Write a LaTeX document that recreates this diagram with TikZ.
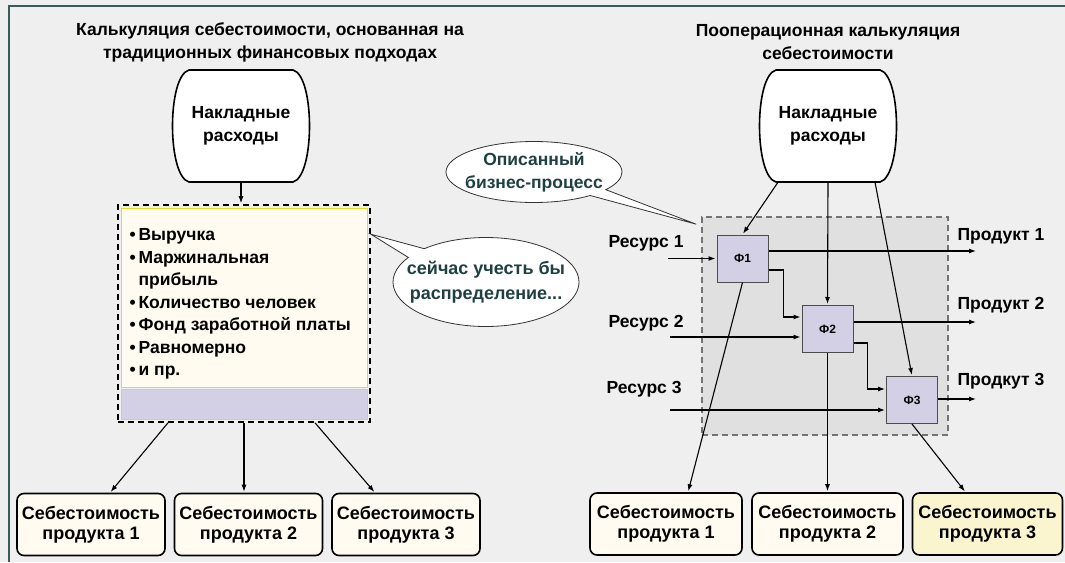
\documentclass[tikz,border=0pt]{standalone}
\usepackage{fontspec}
\setmainfont{Liberation Sans}
\usetikzlibrary{arrows.meta,calc,shapes.callouts}
\definecolor{bg}{HTML}{EFEFEF}
\definecolor{frame}{HTML}{3C5C5C}
\definecolor{cream}{HTML}{FFFBF0}
\definecolor{lav}{HTML}{D3D0E6}
\definecolor{lemon}{HTML}{FAF5CF}
\definecolor{procgray}{HTML}{E0E0E0}
\definecolor{note}{HTML}{1E4040}
\tikzset{
  barrel/.style={minimum width=137pt,minimum height=112pt,align=center,inner sep=0pt},
  cost/.style={draw,line width=1.6pt,rounded corners=7pt,fill=cream,
    minimum width=148pt,minimum height=62pt,align=center,inner sep=0pt,
    font=\fontsize{18}{20}\selectfont\bfseries},
  func/.style={draw=black!70,line width=1pt,fill=lav,minimum width=51pt,
    minimum height=47pt,inner sep=0pt,font=\fontsize{12}{14}\selectfont\bfseries},
  bubble/.style={ellipse callout,draw=black!80,thick,fill=white,text=note,
    align=center,inner xsep=-22pt,inner ysep=-6pt},
  arr/.style={-{Latex[length=7pt,width=5pt]},line width=1.1pt,shorten >=1pt}
}
% outline of an overheads "barrel" round a centre point
\newcommand{\barrelat}[1]{%
  \draw[line width=1.6pt,fill=white] ($#1+(-52,-56)$) -- ($#1+(52,-56)$)
    .. controls ($#1+(74,-50)$) and ($#1+(74,50)$) .. ($#1+(52,56)$)
    -- ($#1+(-52,56)$)
    .. controls ($#1+(-74,50)$) and ($#1+(-74,-50)$) .. cycle;}
\begin{document}
\begin{tikzpicture}[x=1pt,y=-1pt,font=\fontsize{17.5}{23}\selectfont\bfseries]
  \fill[bg] (0,0) rectangle (1065,562);
  \useasboundingbox (0,0) rectangle (1065,562);
  \draw[frame,line width=2.5pt] (9,562) -- (9,6) -- (1065,6);

  % titles
  \node[align=center] (tl) at (270,42) {Калькуляция себестоимости, основанная на\\традиционных финансовых подходах};
  \node[align=center] (tr) at (828,42) {Пооперационная калькуляция\\себестоимости};

  % overheads
  \barrelat{(241,126)}
  \barrelat{(828,126)}
  \node[barrel] (ohl) at (241,126) {Накладные\\расходы};
  \node[barrel] (ohr) at (828,126) {Накладные\\расходы};

  % allocation bases
  \filldraw[fill=cream,draw=yellow!90!black] (121,208) rectangle (367,387);
  \filldraw[fill=lav,draw=yellow!90!black] (121,389) rectangle (367,419);
  \node[draw,line width=1.6pt,dash pattern=on 6pt off 4pt,minimum width=252pt,minimum height=217pt] (bases) at (244,313.5) {};
  \node[align=left,anchor=west,font=\fontsize{17.5}{22.5}\selectfont\bfseries] (items) at (126,304) {\textbullet\,Выручка\\\textbullet\,Маржинальная\\\phantom{\textbullet\,}прибыль\\\textbullet\,Количество человек\\\textbullet\,Фонд заработной платы\\\textbullet\,Равномерно\\\textbullet\,и пр.};

  % process
  \node[draw=black!55,fill=procgray,line width=1.6pt,dash pattern=on 6pt off 4pt,minimum width=246pt,minimum height=218pt] (proc) at (825,326) {};
  \node[func] (f1) at (742.5,258.5) {Ф1};
  \node[func] (f2) at (827.5,329) {Ф2};
  \node[func] (f3) at (912,400) {Ф3};

  % callouts
  \coordinate (tipa) at ($(bases.north east)+(0,30)$);
  \node[bubble,minimum width=186pt,minimum height=89pt,callout absolute pointer=(tipa),font=\fontsize{18}{25}\selectfont\bfseries] (talk) at (486,282) {сейчас учесть бы\\распределение...};
  \coordinate (tipb) at ($(proc.north west)+(-5,8)$);
  \node[bubble,minimum width=176pt,minimum height=61pt,callout absolute pointer=(tipb)] (descr) at (534,172) {Описанный\\бизнес-процесс};

  % resources and products
  \node[anchor=west] (res1) at (605,243) {Ресурс 1};
  \node[anchor=west] (res2) at (605,323) {Ресурс 2};
  \node[anchor=west] (res3) at (603,389) {Ресурс 3};
  \node[anchor=west] (prod1) at (954,236) {Продукт 1};
  \node[anchor=west] (prod2) at (954,305) {Продукт 2};
  \node[anchor=west] (prod3) at (954,381) {Продкут 3};
  \coordinate (in1) at (668,258.5);
  \coordinate (in2) at (670,337);
  \coordinate (in3) at (670,410);
  \coordinate (out1) at (977,251);
  \coordinate (out2) at (977,322);
  \coordinate (out3) at (977,399);

  % cost objects
  \node[cost] (c1) at (91,524.5) {Себестоимость\\продукта 1};
  \node[cost] (c2) at (248.5,524.5) {Себестоимость\\продукта 2};
  \node[cost] (c3) at (406,524.5) {Себестоимость\\продукта 3};
  \node[cost,minimum width=152pt] (c4) at (666,524) {Себестоимость\\продукта 1};
  \node[cost,minimum width=151pt] (c5) at (827.5,524) {Себестоимость\\продукта 2};
  \node[cost,minimum width=150pt,fill=lemon] (c6) at (987.5,524) {Себестоимость\\продукта 3};

  \begin{scope}[arr]
    \draw (ohl.south) -- (ohl.south |- bases.north);
    \draw ($(bases.south)+(-76,0)$) -- ($(c1.north)+(19,0)$);
    \draw (bases.south) -- (bases.south |- c2.north);
    \draw ($(bases.south)+(71,0)$) -- ($(c3.north)+(-31,0)$);

    \draw ($(ohr.south)+(-50,0)$) -- (f1.north);
    \draw (ohr.south) -- (f2.north);
    \draw ($(ohr.south)+(47,0)$) -- (f3.north);
    \draw (in1) -- (f1.west);
    \draw (in2) -- (in2 -| f2.west);
    \draw (in3) -- (in3 -| f3.west);
    \draw (out1 -| f1.east) -- (out1);
    \draw (out2 -| f2.east) -- (out2);
    \draw (out3 -| f3.east) -- (out3);
    \draw ($(f1.east)+(0,11.5)$) -- ++(15,0) |- ($(f2.west)+(0,-12)$);
    \draw ($(f2.east)+(0,14)$) -- ++(14,0) |- ($(f3.west)+(0,-11)$);
    \draw (f1.south) -- ($(c4.north)+(22,0)$);
    \draw (f2.south) -- (c5.north);
    \draw (f3.south) -- ($(c6.north)+(-22,0)$);
  \end{scope}
\end{tikzpicture}
\end{document}
